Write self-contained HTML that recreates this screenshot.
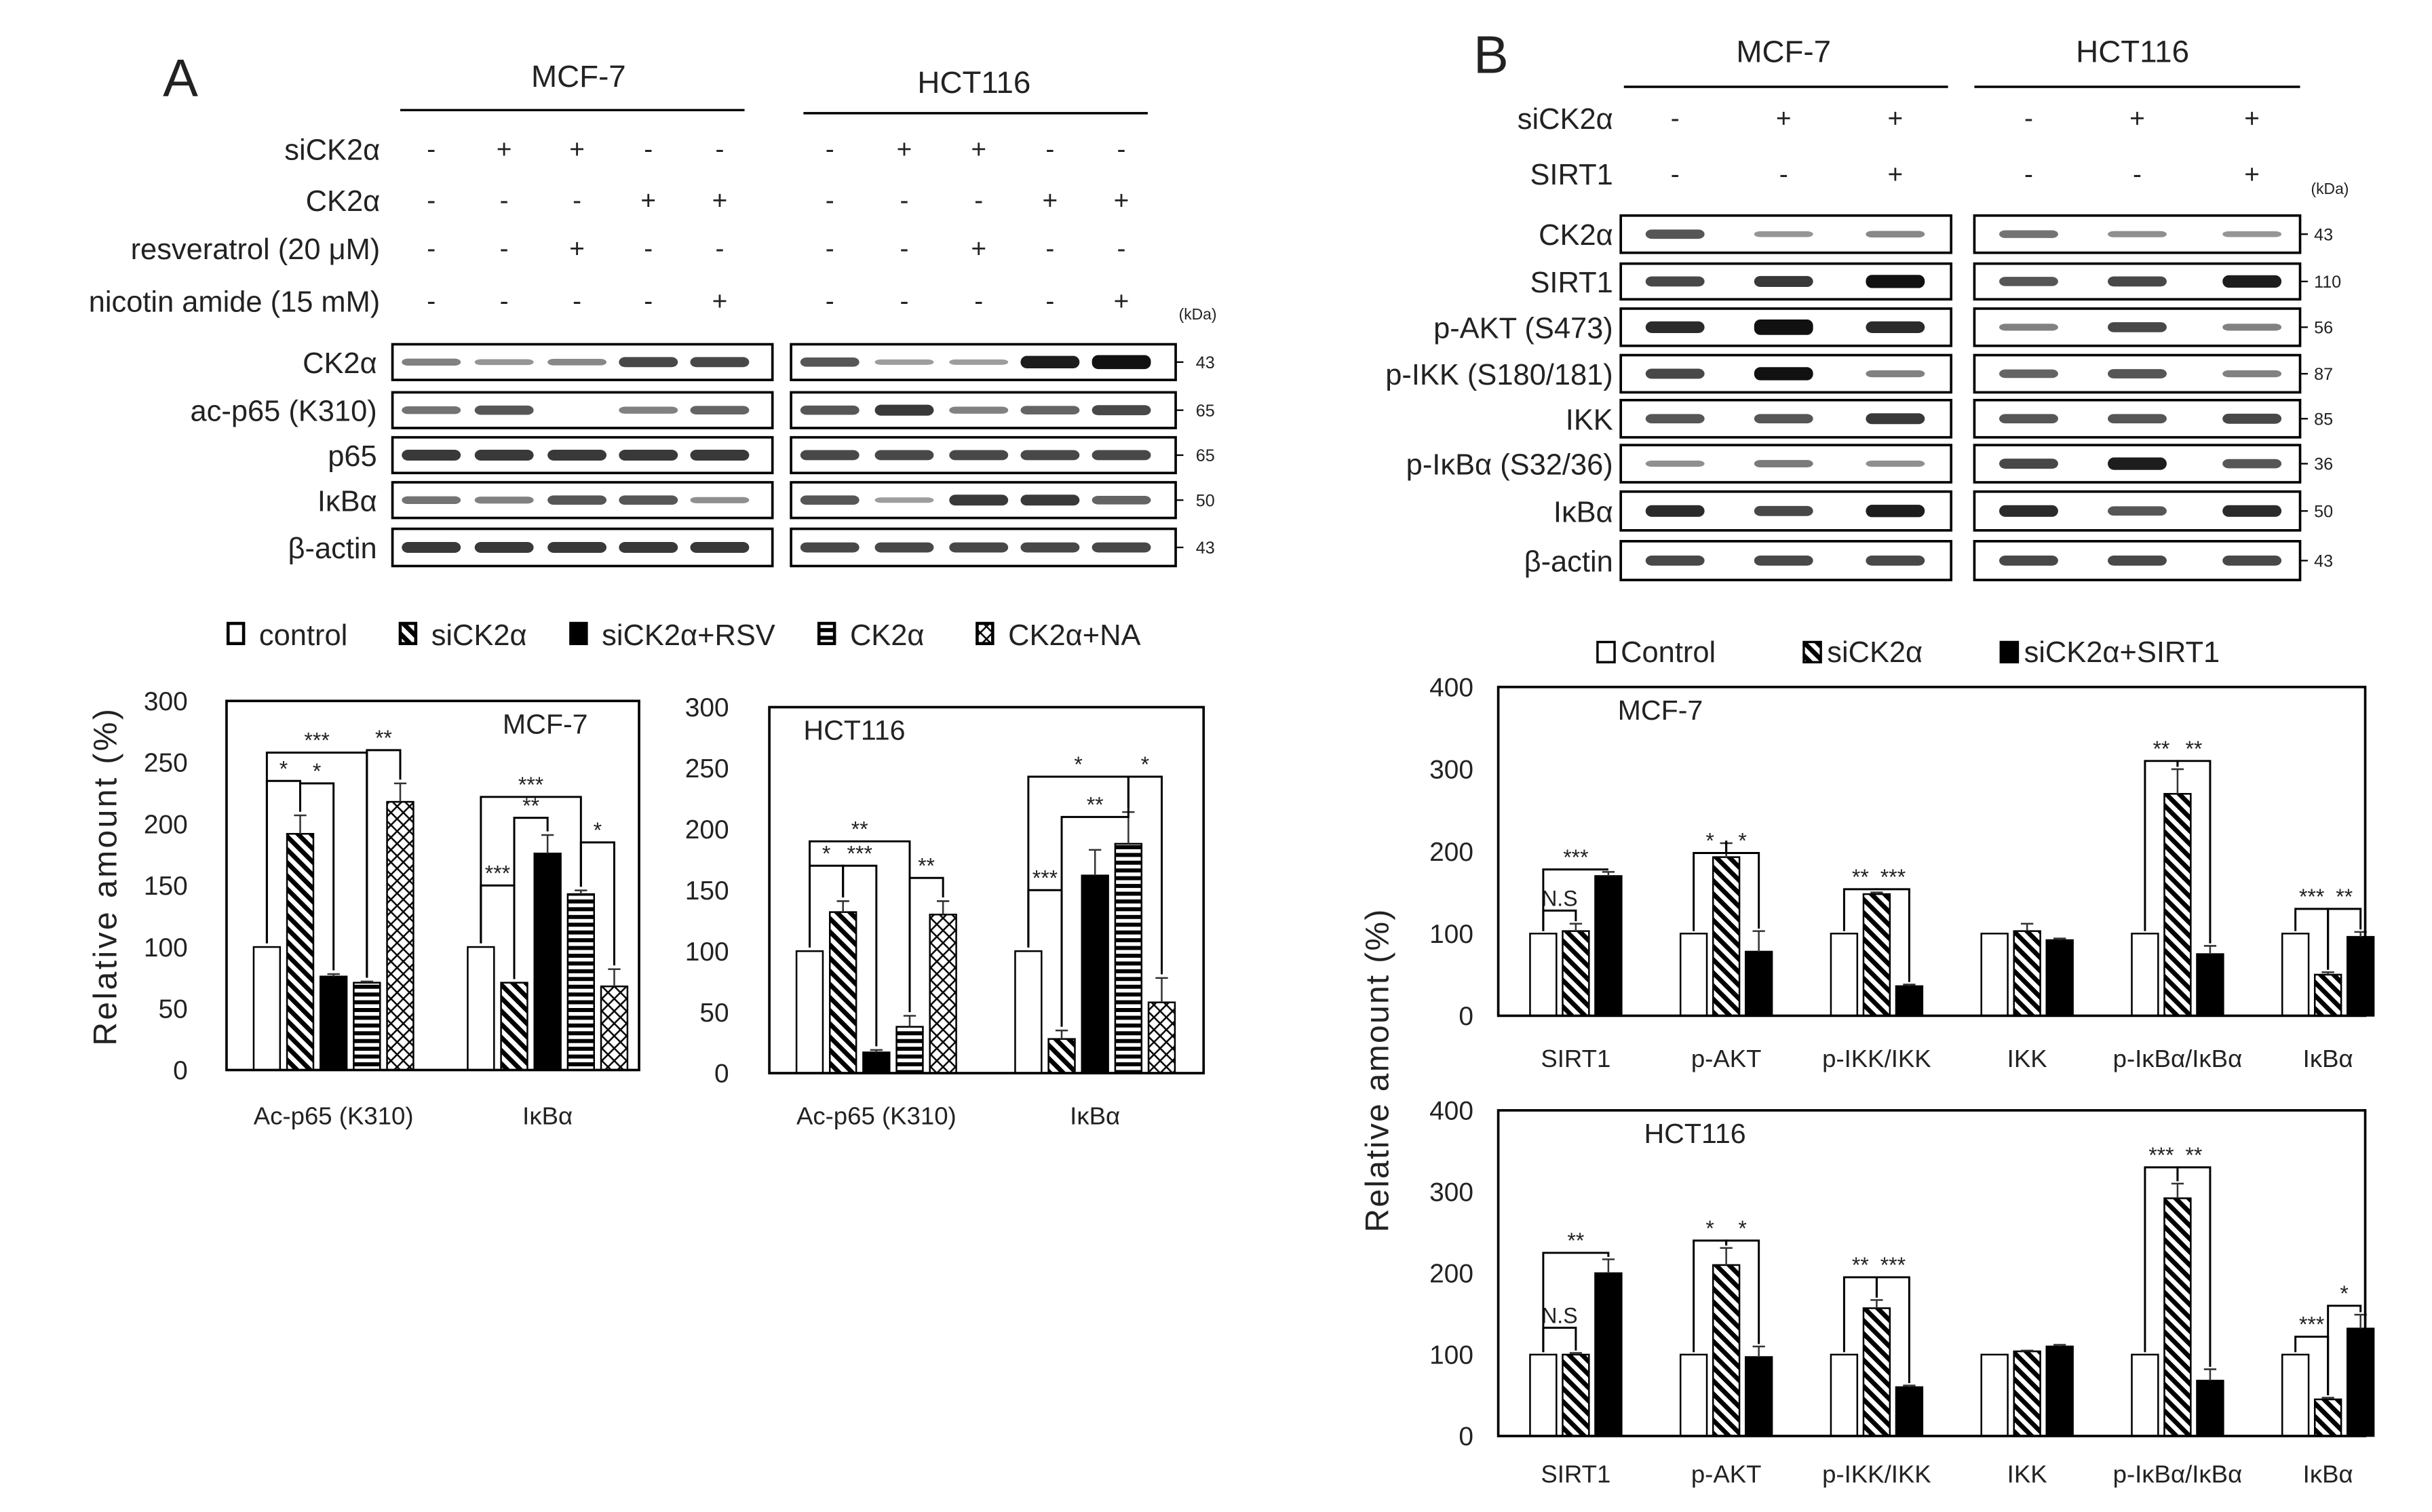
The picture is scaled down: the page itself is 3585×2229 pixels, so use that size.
<!DOCTYPE html>
<html><head><meta charset="utf-8"><style>
html,body{margin:0;padding:0;background:#fff}
svg{display:block}
text{font-family:"Liberation Sans","DejaVu Sans",sans-serif;fill:#222}
</style></head><body>
<svg id="fig" width="3585" height="2229" viewBox="0 0 1568 975" xmlns="http://www.w3.org/2000/svg">
<defs>
<pattern id="diag" patternUnits="userSpaceOnUse" width="6" height="6" patternTransform="rotate(-45)"><rect width="6" height="6" fill="#fff"/><rect width="3" height="6" fill="#000"/></pattern>
<pattern id="horiz" patternUnits="userSpaceOnUse" width="6" height="5"><rect width="6" height="5" fill="#fff"/><rect width="6" height="2.6" fill="#000"/></pattern>
<pattern id="cross" patternUnits="userSpaceOnUse" width="8" height="8"><rect width="8" height="8" fill="#fff"/><path d="M0 0L8 8M8 0L0 8" stroke="#000" stroke-width="1.1"/></pattern>
</defs>
<g id="root"></g>
</svg>
<script>
// ---------- Panel A chart data ----------
const catsA = ["Ac-p65 (K310)", "IκBα"];
const seriesA = ["control", "siCK2α", "siCK2α+RSV", "CK2α", "CK2α+NA"];
const mcfControl = [100, 100];
const mcfSi = [192, 71];
const mcfRsv = [76, 176];
const mcfCk = [71, 143];
const mcfNa = [218, 68];
const mcfErr = [[0,0],[15,0],[2,15],[1,3],[15,14]];
const hctControl = [100, 100];
const hctSi = [132, 28];
const hctRsv = [17, 162];
const hctCk = [38, 188];
const hctNa = [130, 58];
const hctErr = [[0,0],[9,7],[2,21],[9,26],[11,20]];
const ticksA = [0, 50, 100, 150, 200, 250, 300];
// ---------- Panel B chart data ----------
const catsB = ["SIRT1", "p-AKT", "p-IKK/IKK", "IKK", "p-IκBα/IκBα", "IκBα"];
const seriesB = ["Control", "siCK2α", "siCK2α+SIRT1"];
const bMcfControl = [100, 100, 100, 100, 100, 100];
const bMcfSi = [103, 193, 148, 103, 270, 50];
const bMcfSirt = [170, 78, 36, 92, 75, 96];
const bMcfSiErr = [9, 17, 2, 9, 30, 3];
const bMcfSirtErr = [5, 25, 2, 2, 10, 6];
const bHctControl = [100, 100, 100, 100, 100, 100];
const bHctSi = [100, 210, 157, 104, 292, 45];
const bHctSirt = [200, 97, 60, 110, 68, 132];
const bHctSiErr = [2, 21, 10, 1, 18, 2];
const bHctSirtErr = [17, 13, 2, 2, 14, 17];
const ticksB = [0, 100, 200, 300, 400];

const NS = "http://www.w3.org/2000/svg";
const root = document.getElementById("root");
function el(tag, attrs, parent, txt) {
  const e = document.createElementNS(NS, tag);
  for (const k in attrs) e.setAttribute(k, attrs[k]);
  if (txt !== undefined) e.textContent = txt;
  (parent || root).appendChild(e);
  return e;
}
function T(x, y, s, size, anchor, name, parent, extra) {
  const t = el("text", Object.assign({x: x, y: y, "font-size": size, "text-anchor": anchor || "start"}, extra || {}), parent, s);
  
  
  return t;
}
const fills = ["#fff", "url(#diag)", "#000", "url(#horiz)", "url(#cross)"];
const fillsB = ["#fff", "url(#diag)", "#000"];

function chart(opt) {
  const g = el("g", {});
  
  
  const y = v => opt.y0 - v * (opt.y0 - opt.yTop) / opt.vmax;
  const cx = i => opt.cx0 + i * opt.cstep;
  const n = opt.series.length;
  opt.series.forEach((vals, s) => {
    vals.forEach((v, i) => {
      const bx = cx(i) - (n * opt.pitch) / 2 + s * opt.pitch + (opt.pitch - opt.bw) / 2;
      const r = el("rect", {x: bx, y: y(v), width: opt.bw, height: opt.y0 - y(v), fill: opt.fills[s], stroke: "#000", "stroke-width": 1.1}, g);
      
      
      const e = opt.err[s][i];
      if (e > 0) {
        const mx = bx + opt.bw / 2;
        const l = el("path", {d: `M${mx} ${y(v)}V${y(v + e)}M${mx - 4} ${y(v + e)}H${mx + 4}`, stroke: "#333", "stroke-width": 1.1, fill: "none"}, g);
        
        
      }
    });
  });
  (opt.brackets || []).forEach(b => {
    const [i, s1, s2, lev, lab] = b;
    const x1 = cx(i) - (n * opt.pitch) / 2 + s1 * opt.pitch + opt.pitch / 2;
    const x2 = cx(i) - (n * opt.pitch) / 2 + s2 * opt.pitch + opt.pitch / 2;
    const top1 = opt.series[s1][i] + opt.err[s1][i] + 3;
    const top2 = opt.series[s2][i] + opt.err[s2][i] + 3;
    const p = el("path", {d: `M${x1} ${y(top1)}V${y(lev)}H${x2}V${y(top2)}`, stroke: "#000", "stroke-width": 1.3, fill: "none"}, g);
    
    
    T((x1 + x2) / 2, y(lev) - 3, lab, 14, "middle", "significance-label", g);
  });
  el("rect", {x: opt.fx, y: opt.yTop, width: opt.fw, height: opt.y0 - opt.yTop, fill: "none", stroke: "#000", "stroke-width": 1.6}, g);
  opt.ticks.forEach(t => {
    T(opt.tickX, y(t) + 6, String(t), 17, "end", "y-tick-label", g, {fill: "#555"});
  });
  opt.cats.forEach((c, i) => T(cx(i), opt.labY, c, 16, "middle", "x-tick-label", g, {fill: "#555"}));
  if (opt.title) T(opt.titleX, opt.yTop + 21, opt.title, 18, "start", "chart-title", g);
}

chart({name: "chart-a-mcf7", key: "amcf", series: [mcfControl, mcfSi, mcfRsv, mcfCk, mcfNa], err: mcfErr, fills: fills,
  cats: catsA, fx: 146, fw: 266, yTop: 452, y0: 690, vmax: 300, cx0: 215, cstep: 138, pitch: 21.5, bw: 17,
  ticks: ticksA, tickX: 121, labY: 725, title: "MCF-7", titleX: 324,
  brackets: [[0,0,1,235,"*"],[0,1,2,233,"*"],[0,0,3,258,"***"],[0,3,4,260,"**"],[1,0,1,150,"***"],[1,1,2,205,"**"],[1,0,3,222,"***"],[1,3,4,185,"*"]]});
chart({name: "chart-a-hct116", key: "ahct", series: [hctControl, hctSi, hctRsv, hctCk, hctNa], err: hctErr, fills: fills,
  cats: catsA, fx: 496, fw: 280, yTop: 456, y0: 692, vmax: 300, cx0: 565, cstep: 141, pitch: 21.5, bw: 17,
  ticks: ticksA, tickX: 470, labY: 725, title: "HCT116", titleX: 518,
  brackets: [[0,0,1,170,"*"],[0,1,2,170,"***"],[0,0,3,190,"**"],[0,3,4,160,"**"],[1,0,1,150,"***"],[1,1,3,210,"**"],[1,0,3,243,"*"],[1,3,4,243,"*"]]});
T(75, 565, "Relative amount (%)", 21, "middle", "y-axis-title-a", null, {transform: "rotate(-90 75 565)", "letter-spacing": "1.5", fill: "#333"});

const legA = [[147, "control"], [258, "siCK2α"], [368, "siCK2α+RSV"], [528, "CK2α"], [630, "CK2α+NA"]];
legA.forEach((l, s) => {
  const r = el("rect", {x: l[0], y: 402, width: 10, height: 13, fill: fills[s], stroke: "#000", "stroke-width": 2});
  
  
  T(l[0] + 20, 416, l[1], 19, "start", "legend-entry", null, {fill: "#555"});
});

chart({name: "chart-b-mcf7", key: "bmcf", series: [bMcfControl, bMcfSi, bMcfSirt], err: [[0,0,0,0,0,0], bMcfSiErr, bMcfSirtErr], fills: fillsB,
  cats: catsB, fx: 966, fw: 559, yTop: 443, y0: 655, vmax: 400, cx0: 1016, cstep: 97, pitch: 21, bw: 17,
  ticks: ticksB, tickX: 950, labY: 688, title: "MCF-7", titleX: 1043,
  brackets: [[0,0,1,128,"N.S"],[0,0,2,178,"***"],[1,0,1,198,"*"],[1,1,2,198,"*"],[2,0,1,154,"**"],[2,1,2,154,"***"],[4,0,1,310,"**"],[4,1,2,310,"**"],[5,0,1,130,"***"],[5,1,2,130,"**"]]});
chart({name: "chart-b-hct116", key: "bhct", series: [bHctControl, bHctSi, bHctSirt], err: [[0,0,0,0,0,0], bHctSiErr, bHctSirtErr], fills: fillsB,
  cats: catsB, fx: 966, fw: 559, yTop: 716, y0: 926, vmax: 400, cx0: 1016, cstep: 97, pitch: 21, bw: 17,
  ticks: ticksB, tickX: 950, labY: 956, title: "HCT116", titleX: 1060,
  brackets: [[0,0,1,133,"N.S"],[0,0,2,225,"**"],[1,0,1,240,"*"],[1,1,2,240,"*"],[2,0,1,195,"**"],[2,1,2,195,"***"],[4,0,1,330,"***"],[4,1,2,330,"**"],[5,0,1,122,"***"],[5,1,2,160,"*"]]});
T(895, 690, "Relative amount (%)", 21, "middle", "y-axis-title-b", null, {transform: "rotate(-90 895 690)", "letter-spacing": "1", fill: "#333"});

const legB = [[1030, "Control"], [1163, "siCK2α"], [1290, "siCK2α+SIRT1"]];
legB.forEach((l, s) => {
  const r = el("rect", {x: l[0], y: 414, width: 11, height: 13, fill: fillsB[s], stroke: "#000", "stroke-width": 1.5});
  
  
  T(l[0] + 15, 427, l[1], 19, "start", "legend-entry", null, {fill: "#555"});
});

function header(lbl, x, lineX1, lineX2, y, lineY) {
  T(x, y, lbl, 20, "middle", "cell-line-header");
  el("line", {x1: lineX1, x2: lineX2, y1: lineY, y2: lineY, stroke: "#000", "stroke-width": 1.5});
}
function signRow(label, labX, y, cols, signs, size) {
  T(labX, y + 7, label, size, "end", "treatment-label");
  cols.forEach((c, i) => T(c, y + 6, signs[i], 17, "middle", "treatment-sign"));
}
function blot(label, labX, x1, x2, y1, y2, lanes, ints, kda, kx, size) {
  const r = el("rect", {x: x1, y: y1, width: x2 - x1, height: y2 - y1, fill: "#fff", stroke: "#000", "stroke-width": 1.6});
  
  
  const ym = (y1 + y2) / 2;
  lanes.forEach((c, i) => {
    const w = ints[i];
    if (w <= 0) return;
    const b = el("rect", {x: c - 19, y: ym - 1.5 - w * 2.5, width: 38, height: 3 + w * 5, rx: 4, fill: "#111", opacity: Math.min(1, 0.35 + w * 0.6)});
    
    
  });
  if (label) T(labX, ym + 7, label, size, "end", "blot-label");
  if (kda) {
    el("line", {x1: x2, x2: x2 + 5, y1: ym, y2: ym, stroke: "#000"});
    T(kx, ym + 4, kda, 11, "start", "kda-marker");
  }
}
T(105, 62, "A", 34, "start", "panel-label-a");
header("MCF-7", 373, 258, 480, 56, 71);
header("HCT116", 628, 518, 740, 60, 73);
const colM = [278, 325, 372, 418, 464], colH = [535, 583, 631, 677, 723];
const cols10 = colM.concat(colH);
signRow("siCK2α", 245, 96, cols10, ["-","+","+","-","-","-","+","+","-","-"], 19);
signRow("CK2α", 245, 129, cols10, ["-","-","-","+","+","-","-","-","+","+"], 19);
signRow("resveratrol  (20 μM)", 245, 160, cols10, ["-","-","+","-","-","-","-","+","-","-"], 19);
signRow("nicotin amide  (15 mM)", 245, 194, cols10, ["-","-","-","-","+","-","-","-","-","+"], 19);
T(760, 206, "(kDa)", 10, "start", "kda-unit");
const rowsA = [
  ["CK2α", 222, 245, [0.3,0.15,0.25,0.7,0.7], [0.6,0.1,0.1,1,1.2], "43"],
  ["ac-p65 (K310)", 253, 276, [0.4,0.6,0,0.3,0.5], [0.6,0.8,0.3,0.5,0.7], "65"],
  ["p65", 282, 305, [0.8,0.8,0.8,0.8,0.8], [0.7,0.7,0.7,0.7,0.7], "65"],
  ["IκBα", 311, 334, [0.4,0.3,0.6,0.6,0.2], [0.6,0.1,0.8,0.8,0.5], "50"],
  ["β-actin", 341, 365, [0.8,0.8,0.8,0.8,0.8], [0.7,0.7,0.7,0.7,0.7], "43"]
];
rowsA.forEach(r => {
  blot(r[0], 243, 253, 498, r[1], r[2], colM, r[3], null, 0, 19);
  blot("", 0, 510, 758, r[1], r[2], colH, r[4], r[5], 771, 19);
});
T(950, 47, "B", 34, "start", "panel-label-b");
header("MCF-7", 1150, 1047, 1256, 40, 56);
header("HCT116", 1375, 1273, 1483, 40, 56);
const colBM = [1080, 1150, 1222], colBH = [1308, 1378, 1452];
const cols6 = colBM.concat(colBH);
signRow("siCK2α", 1040, 76, cols6, ["-","+","+","-","+","+"], 19);
signRow("SIRT1", 1040, 112, cols6, ["-","-","+","-","-","+"], 19);
T(1490, 125, "(kDa)", 10, "start", "kda-unit");
const rowsB = [
  ["CK2α", 139, 163, [0.6,0.15,0.25], [0.4,0.2,0.15], "43"],
  ["SIRT1", 170, 193, [0.7,0.8,1.1], [0.6,0.7,1.0], "110"],
  ["p-AKT (S473)", 199, 223, [0.9,1.4,0.9], [0.3,0.7,0.3], "56"],
  ["p-IKK (S180/181)", 229, 253, [0.7,1.1,0.3], [0.5,0.6,0.3], "87"],
  ["IKK", 258, 282, [0.6,0.6,0.8], [0.6,0.6,0.7], "85"],
  ["p-IκBα (S32/36)", 287, 311, [0.2,0.35,0.2], [0.7,1.0,0.6], "36"],
  ["IκBα", 317, 342, [0.9,0.7,1.0], [0.9,0.6,0.9], "50"],
  ["β-actin", 349, 374, [0.7,0.7,0.7], [0.7,0.7,0.7], "43"]
];
rowsB.forEach(r => {
  blot(r[0], 1040, 1045, 1258, r[1], r[2], colBM, r[3], null, 0, 19);
  blot("", 0, 1273, 1483, r[1], r[2], colBH, r[4], r[5], 1492, 19);
});
</script>
</body></html>
